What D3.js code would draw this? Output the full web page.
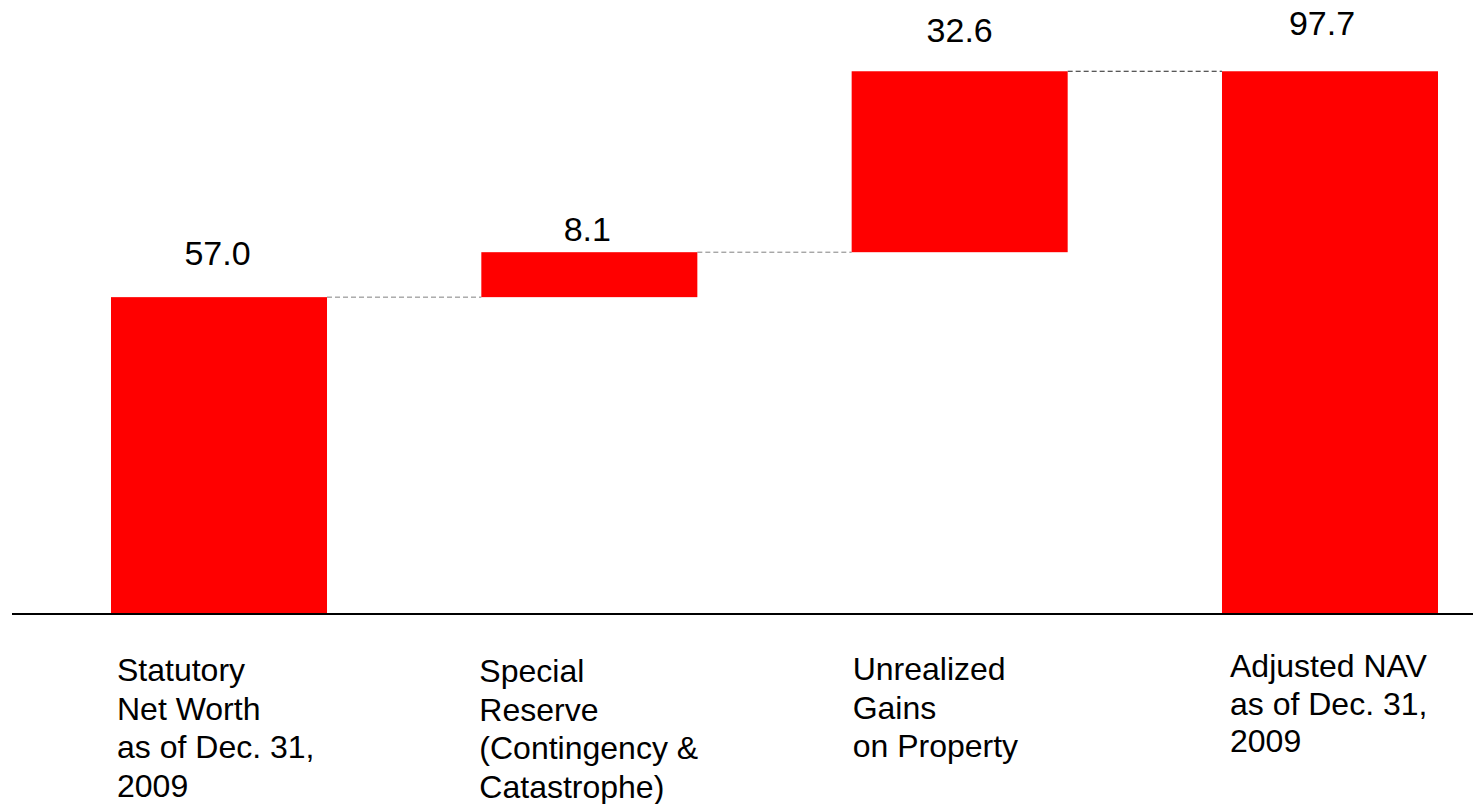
<!DOCTYPE html>
<html>
<head>
<meta charset="utf-8">
<script src="https://cdn.jsdelivr.net/npm/d3@7"></script>
<style>
  html, body { margin: 0; padding: 0; background: #fff; }
  svg { display: block; }
  text { font-family: "Liberation Sans", Arial, Helvetica, sans-serif; fill: #000; }
</style>
</head>
<body>
<svg id="chart" width="1473" height="804"></svg>
<script>
// ---- data ----
const categories = [
  ["Statutory", "Net Worth", "as of Dec. 31,", "2009"],
  ["Special", "Reserve", "(Contingency &", "Catastrophe)"],
  ["Unrealized", "Gains", "on Property"],
  ["Adjusted NAV", "as of Dec. 31,", "2009"]
];
const values = [57.0, 8.1, 32.6, 97.7];
const kinds = ["total", "delta", "delta", "total"];
const valueLabels = ["57.0", "8.1", "32.6", "97.7"];

// ---- layout ----
const svg = d3.select("#chart");
const baseY = 613.5;
const x = d3.scaleBand().domain(d3.range(values.length)).range([111, 1438])
  .paddingInner(0.4167).paddingOuter(0);
const y = d3.scaleLinear().domain([0, 100]).range([baseY, baseY - 555]);

// compute waterfall segments
let run = 0;
const segs = values.map((v, i) => {
  let lo, hi;
  if (kinds[i] === "total") { lo = 0; hi = v; run = v; }
  else { lo = run; hi = run + v; run = hi; }
  return { i, lo, hi };
});

// connectors
const connColors = ["#808080", "#808080", "#222"];
for (let i = 0; i < segs.length - 1; i++) {
  const yv = y(segs[i].hi);
  svg.append("line")
    .attr("x1", x(i) + x.bandwidth())
    .attr("x2", x(i + 1))
    .attr("y1", yv).attr("y2", yv)
    .attr("stroke", connColors[i])
    .attr("stroke-width", 1)
    .attr("stroke-dasharray", "5,3");
}

// bars
svg.selectAll("rect.bar").data(segs).join("rect")
  .attr("class", "bar")
  .attr("x", d => x(d.i))
  .attr("width", x.bandwidth())
  .attr("y", d => y(d.hi))
  .attr("height", d => y(d.lo) - y(d.hi))
  .attr("fill", "#ff0000");

// baseline axis
svg.append("line")
  .attr("x1", 12).attr("x2", 1473)
  .attr("y1", baseY + 0.5).attr("y2", baseY + 0.5)
  .attr("stroke", "#000").attr("stroke-width", 2);

// value labels
const labelGap = [32, 11, 29, 36];
const labelDx = [-1.5, -2, 0, -8];
svg.selectAll("text.val").data(segs).join("text")
  .attr("class", "val")
  .attr("x", d => x(d.i) + x.bandwidth() / 2 + labelDx[d.i])
  .attr("y", d => y(d.hi) - labelGap[d.i])
  .attr("text-anchor", "middle")
  .attr("font-size", 34)
  .text(d => valueLabels[d.i]);

// category labels
const catDx = [6, -2, 1, 8];
const catY = [681, 682, 680, 677];
const catLH = [38.7, 38.5, 38.5, 37.5];
categories.forEach((lines, i) => {
  const t = svg.append("text")
    .attr("x", x(i) + catDx[i])
    .attr("y", catY[i])
    .attr("font-size", 32);
  lines.forEach((ln, j) => {
    t.append("tspan").attr("x", x(i) + catDx[i]).attr("y", catY[i] + j * catLH[i]).text(ln);
  });
});
</script>
</body>
</html>
